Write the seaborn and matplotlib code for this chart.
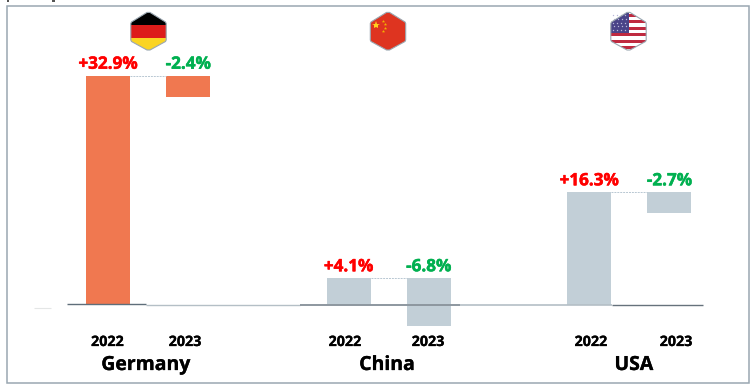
import matplotlib
matplotlib.use("Agg")
import matplotlib.pyplot as plt
import matplotlib.patheffects as pe
from matplotlib.patches import Polygon, Rectangle
from matplotlib.transforms import Affine2D
import pandas as pd
import seaborn as sns

countries = ["Germany", "China", "USA"]
years = ["2022", "2023"]
labels = ["+32.9%", "-2.4%", "+4.1%", "-6.8%", "+16.3%", "-2.7%"]
bar_tops = [32.9, 32.9, 3.8, 3.8, 16.15, 16.15]
bar_bottoms = [0.0, 29.75, 0.0, -3.1, 0.0, 13.1]

ORANGE = "#F07850"
GREY = "#C2CFD7"
RED = "#FF0000"
GREEN = "#00B050"

sns.set_theme(style="white")
plt.rcParams["font.family"] = ["Open Sans", "DejaVu Sans"]

W, H = 755, 391
fig = plt.figure(figsize=(W / 100, H / 100), dpi=100, facecolor="white")
ax = fig.add_axes([0, 0, 1, 1])
px = Affine2D().scale(1 / W, -1 / H).translate(0, 1) + fig.transFigure

keys = []
for c in countries:
    for y in years:
        keys.append(f"{c} {y}")
order = []
for i, c in enumerate(countries):
    order += [f"{c} {y}" for y in years]
    if i < len(countries) - 1:
        order.append(f"gap {i}")

df = pd.DataFrame({"bar": keys, "top": bar_tops, "bottom": bar_bottoms})
df["height"] = df["top"] - df["bottom"]
df["color"] = [ORANGE, ORANGE, GREY, GREY, GREY, GREY]

SLOT = 80.2
WIDTH = 44 / SLOT
for _, row in df.iterrows():
    sns.barplot(x=[row["bar"]], y=[row["height"]], order=order, bottom=row["bottom"],
                color=row["color"], saturation=1, width=WIDTH, errorbar=None,
                linewidth=0, ax=ax)

ax.set_xlim(-108 / SLOT, (W - 108) / SLOT)
ax.set_ylim(-(H - 304.5) / 6.96, 304.5 / 6.96)
ax.set_axis_off()

slots = [order.index(k) for k in keys]

# connectors between each pair of bars
for s, t in zip(slots[::2], bar_tops[::2]):
    ax.hlines(t, s + WIDTH / 2, s + 1 - WIDTH / 2, color="#B8C7D2", lw=0.7,
              linestyles=(0, (2, 1)), zorder=1)

def heavy(col, w=0.35):
    return [pe.withStroke(linewidth=w, foreground=col)]

# value labels
for s, t, lab in zip(slots, bar_tops, labels):
    col = RED if lab.startswith("+") else GREEN
    ax.annotate(lab, (s, t), xytext=(0, 2), textcoords="offset points", ha="center",
                va="bottom", fontsize=12.3, fontweight="bold", color=col,
                path_effects=heavy(col))

# baseline pieces
for x0, x1, y, col, lw in [(146, 300, 305, "#B4BFC6", 1.0), (300, 460, 304.9, "#8D979F", 1.4),
                           (460, 612, 304.8, "#B4BFC6", 1.2), (67, 146, 304.3, "#5F6E7A", 1.0),
                           (612, 703, 305.2, "#66727C", 1.0), (34, 51, 307.5, "#E4E6E6", 0.8),
                           (7, 9, 0.6, "#333333", 1.2), (52, 55, 0.6, "#333333", 1.2)]:
    ax.plot([x0, x1], [y, y], transform=px, color=col, lw=lw, solid_capstyle="butt", zorder=5)

# year labels
year_x = [107.5, 185, 345, 428, 591, 676]
for x, k in zip(year_x, keys):
    ax.text(x, 342, k.split()[1], transform=px, ha="center", va="center",
            fontsize=10.3, fontweight="bold", color="black", path_effects=heavy("black", 0.2))

# country labels
for x, c in zip([146, 387, 634], countries):
    ax.text(x, 365, c, transform=px, ha="center", va="center", fontsize=14,
            fontweight="bold", color="black", path_effects=heavy("black", 0.2))

# frame
ax.add_patch(Rectangle((6.5, 5.5), 742, 377, transform=px, fill=False, ec="#9AA7B1", lw=1.1,
                       clip_on=False, zorder=6))


def hexagon(cx):
    pts = [(cx - 1.5, 12.4), (cx + 1.5, 12.4), (cx + 17, 22), (cx + 17.7, 23.5),
           (cx + 17.7, 40), (cx + 17, 41.5), (cx + 1.5, 50), (cx - 1.5, 50),
           (cx - 17, 41.5), (cx - 17.7, 40), (cx - 17.7, 23.5), (cx - 17, 22)]
    clip = Polygon(pts, closed=True, transform=px, fill=False, ec="none")
    ax.add_patch(clip)
    return pts, clip


def finish(pts):
    ax.add_patch(Polygon(pts, closed=True, transform=px, fill=False, ec="#9AA7B1", lw=0.8,
                         joinstyle="round", zorder=8))


def rect(x, y, w, h, col, clip):
    r = Rectangle((x, y), w, h, transform=px, fc=col, ec="none", zorder=7)
    ax.add_patch(r)
    r.set_clip_path(clip)


# Germany
pts, clip = hexagon(148.5)
rect(130, 10, 38, 14.5, "#000000", clip)
rect(130, 24.5, 38, 13.5, "#DD1C1A", clip)
rect(130, 38, 38, 14, "#FAD423", clip)
finish(pts)

# China
pts, clip = hexagon(388)
rect(368, 10, 40, 42, "#DE3420", clip)
ax.plot([376], [25], "*", transform=px, color="#FFD21E", ms=6, mew=0, zorder=8)
for sx, sy in [(382.5, 21), (385, 24), (385, 28), (382.5, 30.5)]:
    ax.plot([sx], [sy], "*", transform=px, color="#F4B400", ms=2.5, mew=0, zorder=8)
finish(pts)

# USA
pts, clip = hexagon(628.5)
rect(609, 10, 40, 42, "#FFFFFF", clip)
for i in range(6):
    rect(609, 13.5 + i * 6.5, 40, 3.2, "#BF2A40", clip)
rect(609, 10, 19.5, 23, "#4A4488", clip)
for r_i in range(5):
    for c_i in range(4):
        ax.plot([612.5 + c_i * 4 + (r_i % 2) * 1.5], [15 + r_i * 3.8], ".", transform=px,
                color="#B9B8D8", ms=2, mew=0, zorder=8)
finish(pts)

fig.savefig("out.png", dpi=100, facecolor="white")
